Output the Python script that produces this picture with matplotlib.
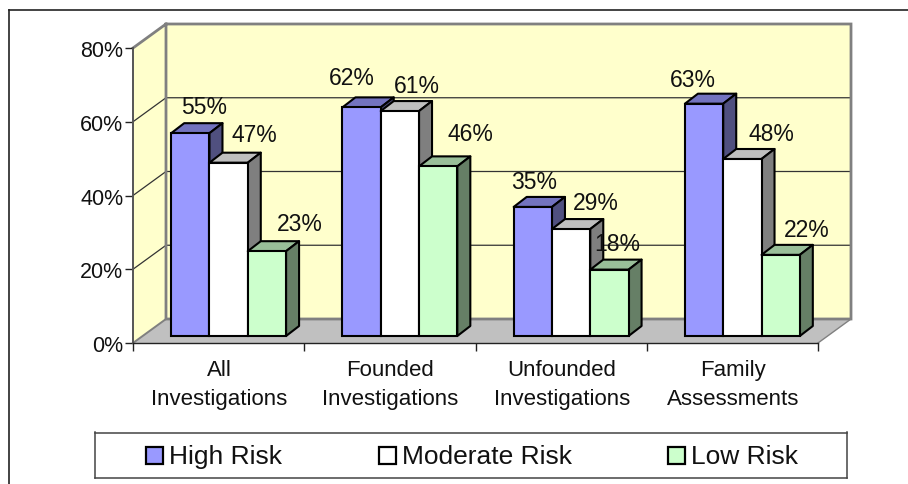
#!/usr/bin/env python3
"""Risk level bars drawn in the old spreadsheet 3D look"""

import matplotlib
matplotlib.use("Agg")
import matplotlib.pyplot as plt
from matplotlib.patches import Polygon, Rectangle
import numpy as np

plt.rcParams["font.family"] = ["Liberation Sans", "DejaVu Sans"]

categories = ["All\nInvestigations", "Founded\nInvestigations",
              "Unfounded\nInvestigations", "Family\nAssessments"]
series = ["High Risk", "Moderate Risk", "Low Risk"]
high = [55, 62, 35, 63]
moderate = [47, 61, 29, 48]
low = [23, 46, 18, 22]
y_ticks = [0, 20, 40, 60, 80]

# hand placed data labels, pixels from the middle of each bar's top edge
LABEL_DX = [[14, -10, 1, -11], [26, 17, 25, 29], [33, 32, 8, 26]]
LABEL_DY = [[27, 30, 25, 24], [28, 26, 27, 25], [28, 33, 26, 25]]

FRONT = ["#9999FF", "#FFFFFF", "#CCFFCC"]
TOP = ["#7373BF", "#BFBFBF", "#99BF99"]
SIDE = ["#50507F", "#7F7F7F", "#667F66"]
WALL = "#FFFFCC"
FLOOR = "#C0C0C0"
EDGE = "#808080"
INK = "#111111"

W, H = 908, 485
PX_X = 685 / 4      # pixels per category
PX_Y = 295 / 80     # pixels per percent


def axes_px(left, top, right, bottom):
    return fig.add_axes([left / W, 1 - bottom / H, (right - left) / W, (bottom - top) / H])


fig = plt.figure(figsize=(W / 100, H / 100), dpi=100, facecolor="white")

# outer frame
fig.add_artist(plt.Line2D([8.5 / W, 8.5 / W], [0, 1 - 10.5 / H], color="#222222", lw=1.2))
fig.add_artist(plt.Line2D([8.5 / W, 1], [1 - 10.5 / H, 1 - 10.5 / H], color="#222222", lw=1.2))

# ── walls and floor, on the front plane of the box ───────────────────────────
ax = axes_px(133, 49, 818, 344)
ax.set_xlim(0, 4)
ax.set_ylim(0, 80)
ax.patch.set_visible(False)
for s in ["top", "right"]:
    ax.spines[s].set_visible(False)
ax.spines["left"].set_color("#555555")
ax.spines["left"].set_linewidth(1.4)
ax.spines["bottom"].set_color("#222222")
ax.spines["bottom"].set_linewidth(1.0)

wx, wy = 33 / PX_X, 24 / PX_Y   # box depth
ax.add_patch(Polygon([(wx, wy), (4 + wx, wy), (4 + wx, 80 + wy), (wx, 80 + wy)],
                     fc=WALL, ec="none", zorder=0, clip_on=False))
ax.add_patch(Polygon([(0, 0), (wx, wy), (wx, 80 + wy), (0, 80)], fc=WALL, ec="none", zorder=0, clip_on=False))
ax.add_patch(Polygon([(0, 0), (4, 0), (4 + wx, wy), (wx, wy)], fc=FLOOR, ec="none", zorder=0.5, clip_on=False))
for t in y_ticks[1:-1]:
    ax.plot([0, wx, 4 + wx], [t, t + wy, t + wy], color="#333333", lw=0.9, zorder=1, clip_on=False)
ax.plot([0, wx, 4 + wx, 4 + wx, wx, wx], [80, 80 + wy, 80 + wy, wy, wy, 80 + wy],
        color=EDGE, lw=2, zorder=1, clip_on=False, solid_joinstyle="miter")
ax.plot([wx, 0], [wy, 0], color=EDGE, lw=1.4, zorder=1, clip_on=False)
ax.plot([4 + wx, 4], [wy, 0], color=EDGE, lw=1, zorder=1, clip_on=False)

ax.set_yticks(y_ticks)
ax.set_yticklabels([f"{t}%" for t in y_ticks], fontsize=15.5, color=INK)
ax.set_xticks(range(5))
ax.set_xticklabels([])
ax.tick_params(axis="y", length=6, width=1, color="#222222", pad=1)
ax.tick_params(axis="x", length=6, width=1, color="#222222")

# ── bars, set a little into the floor ────────────────────────────────────────
bx = axes_px(143, 42, 828, 337)
bx.set_xlim(0, 4)
bx.set_ylim(0, 80)
bx.axis("off")

dx, dy = 13 / PX_X, 10 / PX_Y   # bar depth
width = 38.3 / PX_X
x = np.arange(len(categories)) + 0.5
LW = 1.5

for j, vals in enumerate([high, moderate, low]):
    xs = x + (j - 1) * width
    z = 3 + j
    bx.bar(xs, vals, width, color=FRONT[j], edgecolor="black", linewidth=LW, zorder=z + 0.2, clip_on=False)
    for i, (xc, v) in enumerate(zip(xs, vals)):
        l, r = xc - width / 2, xc + width / 2
        bx.add_patch(Polygon([(l, v), (r, v), (r + dx, v + dy), (l + dx, v + dy)], fc=TOP[j],
                             ec="black", lw=LW, zorder=z, clip_on=False, joinstyle="round"))
        bx.add_patch(Polygon([(r, 0), (r + dx, dy), (r + dx, v + dy), (r, v)], fc=SIDE[j],
                             ec="black", lw=LW, zorder=z, clip_on=False, joinstyle="round"))
        bx.annotate(f"{v}%", (xc, v), xytext=(LABEL_DX[j][i], LABEL_DY[j][i]), textcoords="offset pixels",
                    ha="center", va="center", fontsize=16.5, color=INK, zorder=10, annotation_clip=False)

# category labels sit under the front axis
for i, cat in enumerate(categories):
    ax.text(i + 0.5 + 0.5 / PX_X, -4.4, cat, ha="center", va="top", fontsize=16, linespacing=1.5, color=INK)

# ── legend ───────────────────────────────────────────────────────────────────
lx = axes_px(95, 433.5, 847, 479)
lx.set_xlim(95, 847)
lx.set_ylim(479, 433.5)
lx.set_xticks([])
lx.set_yticks([])
for s in lx.spines.values():
    s.set_color("#444444")
    s.set_linewidth(1.1)
for name, c, sx in zip(series, FRONT, [146, 379, 668]):
    lx.add_patch(Rectangle((sx, 448.5), 16.5, 16.5, fc=c, ec="black", lw=1.6))
    lx.text(sx + 23, 457, name, ha="left", va="center", fontsize=19, color=INK)

fig.savefig("out.png", dpi=100)
plt.close()
